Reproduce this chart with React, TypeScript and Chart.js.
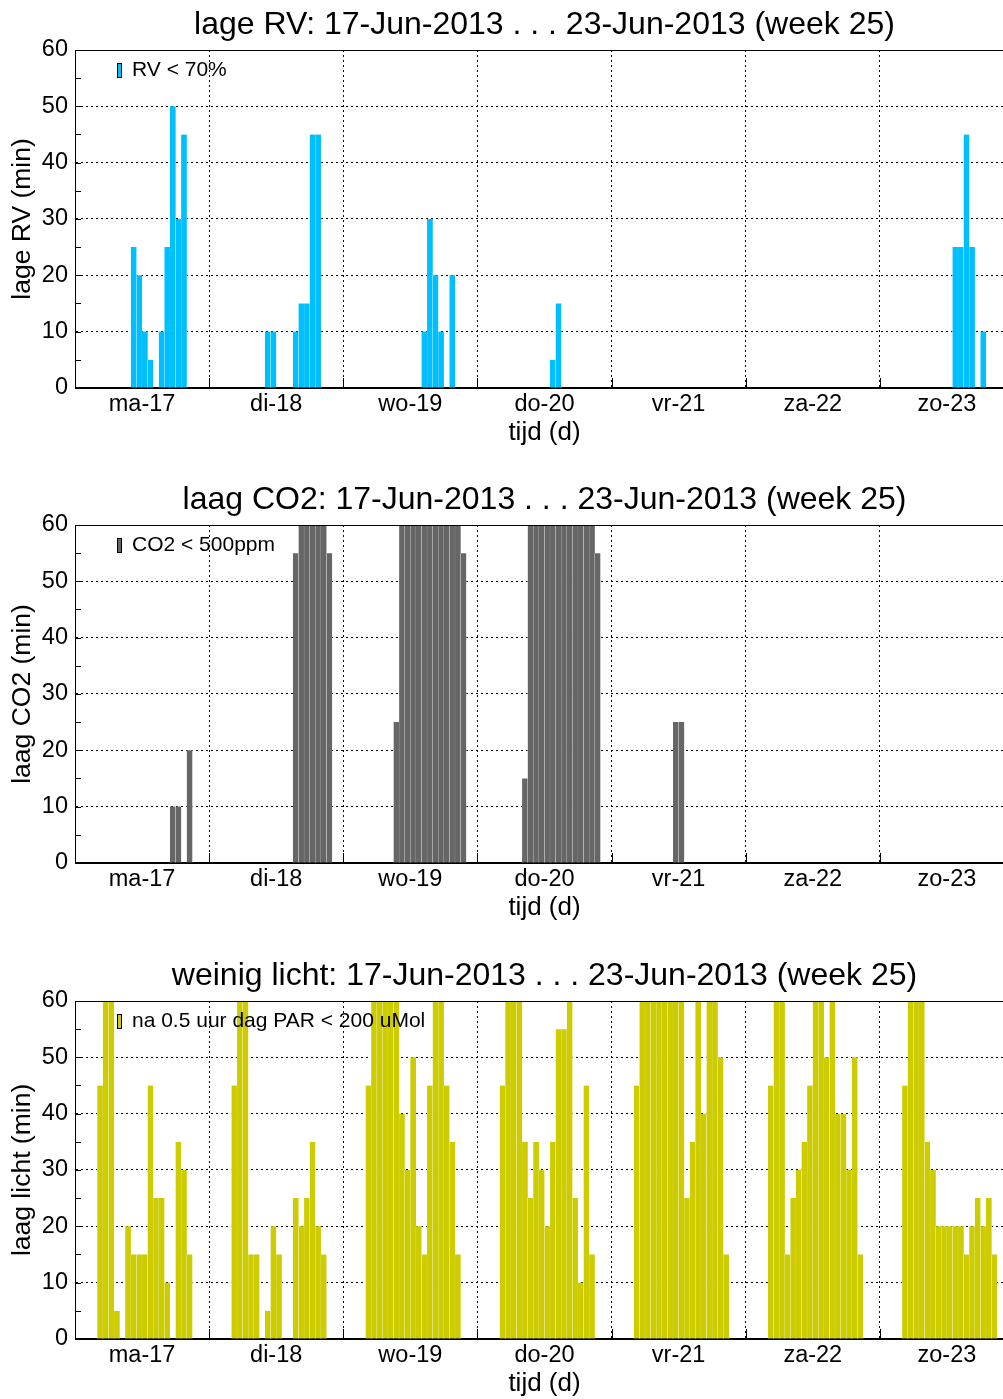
import React, { useEffect, useRef } from 'react';
import { Chart, registerables } from 'chart.js';

Chart.register(...registerables);
Chart.defaults.font.family = '"Liberation Sans", Arial, Helvetica, sans-serif';
Chart.defaults.color = '#000';

const dayLabels = ['ma-17', 'di-18', 'wo-19', 'do-20', 'vr-21', 'za-22', 'zo-23'];
const yTickValues = [0, 10, 20, 30, 40, 50, 60];
const xTitle = 'tijd (d)';
const periodText = '17-Jun-2013 . . . 23-Jun-2013 (week 25)';

// minutes per hour, 24 hourly values per day (ma-17 .. zo-23)
const rvValues = [
  0, 0, 0, 0, 0, 0, 0, 0, 0, 0, 25, 20, 10, 5, 0, 10, 25, 50, 30, 45, 0, 0, 0, 0,
  0, 0, 0, 0, 0, 0, 0, 0, 0, 0, 10, 10, 0, 0, 0, 10, 15, 15, 45, 45, 0, 0, 0, 0,
  0, 0, 0, 0, 0, 0, 0, 0, 0, 0, 0, 0, 0, 0, 10, 30, 20, 10, 0, 20, 0, 0, 0, 0,
  0, 0, 0, 0, 0, 0, 0, 0, 0, 0, 0, 0, 0, 5, 15, 0, 0, 0, 0, 0, 0, 0, 0, 0,
  0, 0, 0, 0, 0, 0, 0, 0, 0, 0, 0, 0, 0, 0, 0, 0, 0, 0, 0, 0, 0, 0, 0, 0,
  0, 0, 0, 0, 0, 0, 0, 0, 0, 0, 0, 0, 0, 0, 0, 0, 0, 0, 0, 0, 0, 0, 0, 0,
  0, 0, 0, 0, 0, 0, 0, 0, 0, 0, 0, 0, 0, 25, 25, 45, 25, 0, 10, 0, 0, 0, 0, 0,
];

const co2Values = [
  0, 0, 0, 0, 0, 0, 0, 0, 0, 0, 0, 0, 0, 0, 0, 0, 0, 10, 10, 0, 20, 0, 0, 0,
  0, 0, 0, 0, 0, 0, 0, 0, 0, 0, 0, 0, 0, 0, 0, 55, 60, 60, 60, 60, 60, 55, 0, 0,
  0, 0, 0, 0, 0, 0, 0, 0, 0, 25, 60, 60, 60, 60, 60, 60, 60, 60, 60, 60, 60, 55, 0, 0,
  0, 0, 0, 0, 0, 0, 0, 0, 15, 60, 60, 60, 60, 60, 60, 60, 60, 60, 60, 60, 60, 55, 0, 0,
  0, 0, 0, 0, 0, 0, 0, 0, 0, 0, 0, 25, 25, 0, 0, 0, 0, 0, 0, 0, 0, 0, 0, 0,
  0, 0, 0, 0, 0, 0, 0, 0, 0, 0, 0, 0, 0, 0, 0, 0, 0, 0, 0, 0, 0, 0, 0, 0,
  0, 0, 0, 0, 0, 0, 0, 0, 0, 0, 0, 0, 0, 0, 0, 0, 0, 0, 0, 0, 0, 0, 0, 0,
];

const lightValues = [
  0, 0, 0, 0, 45, 60, 60, 5, 0, 20, 15, 15, 15, 45, 25, 25, 10, 0, 35, 30, 15, 0, 0, 0,
  0, 0, 0, 0, 45, 60, 60, 15, 15, 0, 5, 20, 15, 0, 0, 25, 20, 25, 35, 20, 15, 0, 0, 0,
  0, 0, 0, 0, 45, 60, 60, 60, 60, 60, 40, 30, 50, 20, 15, 45, 60, 60, 45, 35, 15, 0, 0, 0,
  0, 0, 0, 0, 45, 60, 60, 60, 35, 25, 35, 30, 20, 35, 55, 55, 60, 25, 10, 45, 15, 0, 0, 0,
  0, 0, 0, 0, 45, 60, 60, 60, 60, 60, 60, 60, 60, 25, 35, 60, 40, 60, 60, 50, 15, 0, 0, 0,
  0, 0, 0, 0, 45, 60, 60, 15, 25, 30, 35, 45, 60, 60, 50, 60, 40, 40, 30, 50, 15, 0, 0, 0,
  0, 0, 0, 0, 45, 60, 60, 60, 35, 30, 20, 20, 20, 20, 20, 15, 20, 25, 20, 25, 15, 0, 0, 0,
];

const hourLabels = dayLabels.flatMap((d) => Array.from({ length: 24 }, (_, h) => `${d} ${h}:00`));

const decorPlugin = {
  id: 'decor',
  afterDatasetsDraw(chart: any) {
    const { ctx, chartArea: a, scales } = chart;
    const x = scales.x;
    const y = scales.y;
    const ds = chart.data.datasets[0];
    ctx.save();
    ctx.strokeStyle = '#000';
    ctx.lineWidth = 1;
    ctx.setLineDash([]);
    // ticks on y axis every 5
    for (let v = 0; v <= 60; v += 5) {
      const py = Math.round(y.getPixelForValue(v)) + 0.5;
      ctx.beginPath();
      ctx.moveTo(a.left, py);
      ctx.lineTo(a.left + 6, py);
      ctx.stroke();
    }
    // day ticks on x axis
    for (let d = 1; d < dayLabels.length; d++) {
      const px = Math.round((x.getPixelForValue(d * 24) + x.getPixelForValue(d * 24 - 1)) / 2) + 0.5;
      ctx.beginPath();
      ctx.moveTo(px, a.bottom);
      ctx.lineTo(px, a.bottom - 10);
      ctx.stroke();
    }
    // box
    ctx.strokeRect(Math.round(a.left) + 0.5, Math.round(a.top) + 0.5, Math.round(a.right - a.left), Math.round(a.bottom - a.top));
    // legend
    const lx = a.left + 42;
    const ly = a.top + 13;
    ctx.fillStyle = ds.backgroundColor;
    ctx.fillRect(lx, ly, 4, 15);
    ctx.strokeRect(lx + 0.5, ly + 0.5, 4, 14);
    ctx.fillStyle = '#000';
    ctx.font = '21px "Liberation Sans", Arial, sans-serif';
    ctx.textBaseline = 'middle';
    ctx.textAlign = 'left';
    ctx.fillText(ds.label, a.left + 57, a.top + 20);
    ctx.restore();
  },
};

type PanelProps = {
  top: number;
  title: string;
  yTitle: string;
  legendLabel: string;
  color: string;
  values: number[];
};

function Panel({ top, title, yTitle, legendLabel, color, values }: PanelProps) {
  const ref = useRef<HTMLCanvasElement>(null);
  useEffect(() => {
    const chart = new Chart(ref.current as HTMLCanvasElement, {
      type: 'bar',
      data: {
        labels: hourLabels,
        datasets: [
          {
            label: legendLabel,
            data: values,
            backgroundColor: color,
            borderColor: '#ffffff',
            borderWidth: { left: 0.3, right: 0.3, top: 0, bottom: 0 },
            borderSkipped: false,
            barPercentage: 1,
            categoryPercentage: 1,
          },
        ],
      },
      options: {
        responsive: false,
        animation: false,
        events: [],
        layout: { padding: { left: 0, right: 16, top: 0, bottom: 31.8 } },
        plugins: {
          legend: { display: false },
          tooltip: { enabled: false },
          title: {
            display: true,
            text: title,
            fullSize: false,
            color: '#000',
            font: { size: 32, weight: 'normal', lineHeight: 1 },
            padding: { top: 9.5, bottom: 8.5 },
          },
        },
        scales: {
          x: {
            type: 'category',
            offset: true,
            grid: {
              display: true,
              offset: true,
              drawTicks: false,
              lineWidth: 1,
              color: (c: any) => (c.index > 0 && c.index % 24 === 0 ? '#000' : 'rgba(0,0,0,0)'),
            },
            border: { display: true, color: '#000', dash: [2, 3] },
            ticks: {
              autoSkip: false,
              maxRotation: 0,
              minRotation: 0,
              padding: 3,
              labelOffset: -2.8,
              font: { size: 23.5 },
              color: '#000',
              callback: (_v: any, i: number) => (i % 24 === 12 ? dayLabels[Math.floor(i / 24)] : ''),
            },
            title: {
              display: true,
              text: xTitle,
              color: '#000',
              font: { size: 26, lineHeight: 0.85 },
              padding: { top: 0, bottom: 0 },
            },
          },
          y: {
            min: 0,
            max: 60,
            afterFit: (s: any) => {
              s.width = 75;
            },
            afterBuildTicks: (s: any) => {
              s.ticks = yTickValues.map((v) => ({ value: v }));
            },
            grid: {
              drawTicks: false,
              lineWidth: 1,
              color: (c: any) => (c.tick && c.tick.value > 0 && c.tick.value < 60 ? '#000' : 'rgba(0,0,0,0)'),
            },
            border: { display: true, color: '#000', dash: [2, 3] },
            ticks: { padding: 7, font: { size: 23.5 }, color: '#000' },
            title: {
              display: true,
              text: yTitle,
              color: '#000',
              font: { size: 26.5, lineHeight: 1 },
              padding: { top: 9, bottom: 0 },
            },
          },
        },
      },
      plugins: [decorPlugin],
    } as any);
    return () => chart.destroy();
  }, []);
  return (
    <div style={{ position: 'absolute', left: 0, top, width: 1030, height: 476 }}>
      <canvas ref={ref} width={1030} height={476} style={{ display: 'block' }} />
    </div>
  );
}

export default function App() {
  return (
    <div
      style={{
        position: 'fixed',
        left: 0,
        top: 0,
        width: 1003,
        height: 1399,
        overflow: 'hidden',
        background: '#fff',
      }}
    >
      <Panel top={0} title={`lage RV: ${periodText}`} yTitle="lage RV (min)" legendLabel="RV < 70%" color="#00BFFF" values={rvValues} />
      <Panel top={475} title={`laag CO2: ${periodText}`} yTitle="laag CO2 (min)" legendLabel="CO2 < 500ppm" color="#666666" values={co2Values} />
      <Panel
        top={951}
        title={`weinig licht: ${periodText}`}
        yTitle="laag licht (min)"
        legendLabel="na 0.5 uur dag PAR < 200 uMol"
        color="#CCCC00"
        values={lightValues}
      />
    </div>
  );
}
